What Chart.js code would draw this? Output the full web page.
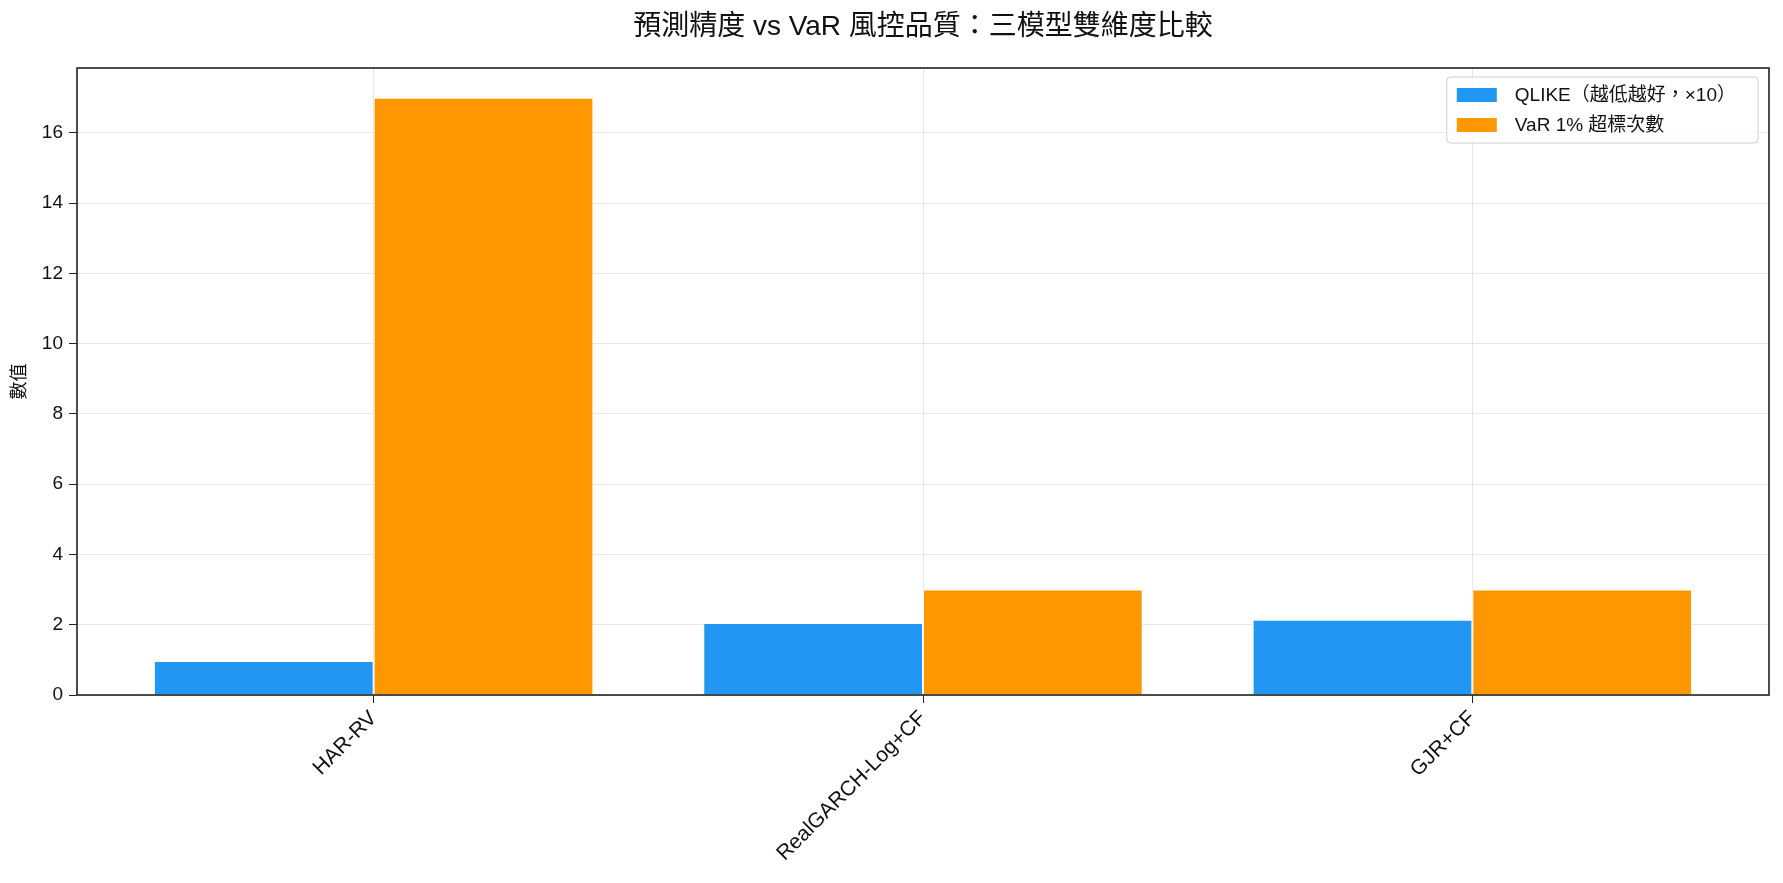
<html>
<head>
<meta charset="utf-8">
<title>預測精度 vs VaR 風控品質</title>
<script src="https://cdn.jsdelivr.net/npm/chart.js@4.4.1/dist/chart.umd.min.js"></script>
<style>
body { margin: 0; background: #fff; }
#wrap { width: 1783px; height: 883px; }
</style>
</head>
<body>
<div id="wrap">
<canvas id="cmpChart" width="1783" height="883"></canvas>
</div>

<script>
// data
const categories = ['HAR-RV', 'RealGARCH-Log+CF', 'GJR+CF'];
const qlikeX10 = [0.97, 2.05, 2.14];
const varExceed = [17, 3, 3];
const yTicks = [0, 2, 4, 6, 8, 10, 12, 14, 16];
const seriesNames = ['QLIKE（越低越好，×10）', 'VaR 1% 超標次數'];

const FONT = '"Liberation Sans", "Noto Sans CJK TC", sans-serif';
const gridCol = 'rgba(176,176,176,0.3)';
const ink = '#222';

// matplotlib-ish frame + legend inside the axes
const boxPlugin = {
    id: 'boxPlugin',
    afterDraw(chart) {
        const ctx = chart.ctx;
        const a = chart.chartArea;
        ctx.save();
        ctx.strokeStyle = ink;
        ctx.lineWidth = 1.6;
        ctx.strokeRect(a.left, a.top, a.right - a.left, a.bottom - a.top);

        ctx.font = '19px ' + FONT;
        let tw = 0;
        chart.data.datasets.forEach(d => { tw = Math.max(tw, ctx.measureText(d.label).width); });
        const w = 10 + 40 + 18 + tw + 22;
        const h = 66;
        const x = a.right - 11 - w;
        const y = a.top + 9;
        ctx.fillStyle = 'rgba(255,255,255,0.8)';
        ctx.strokeStyle = '#d0d0d0';
        ctx.lineWidth = 1;
        ctx.beginPath();
        ctx.roundRect(x, y, w, h, 4);
        ctx.fill();
        ctx.stroke();
        chart.data.datasets.forEach((d, i) => {
            const cy = y + 18 + i * 30;
            ctx.fillStyle = d.backgroundColor;
            ctx.fillRect(x + 10, cy - 7, 40, 14);
            ctx.fillStyle = '#111';
            ctx.textBaseline = 'middle';
            ctx.textAlign = 'left';
            ctx.fillText(d.label, x + 68, cy + 1);
        });
        ctx.restore();
    }
};

const ctx = document.getElementById('cmpChart').getContext('2d');
const cmpChart = new Chart(ctx, {
    type: 'bar',
    data: {
        datasets: [
            {
                label: seriesNames[0],
                backgroundColor: '#2196F3',
                borderColor: '#ffffff',
                borderWidth: 1,
                data: qlikeX10.map((v, i) => ({ x: i, y: v }))
            },
            {
                label: seriesNames[1],
                backgroundColor: '#FF9800',
                borderColor: '#ffffff',
                borderWidth: 1,
                data: varExceed.map((v, i) => ({ x: i, y: v }))
            }
        ]
    },
    options: {
        responsive: false,
        devicePixelRatio: 1,
        animation: false,
        categoryPercentage: 0.8,
        barPercentage: 1.0,
        layout: { padding: { left: 0, right: 14, top: 0, bottom: 0 } },
        plugins: {
            legend: { display: false },
            tooltip: { enabled: false },
            title: {
                display: true,
                fullSize: false,
                text: '預測精度 vs VaR 風控品質：三模型雙維度比較',
                color: '#111',
                font: { family: FONT, size: 28, weight: 'normal' },
                padding: { top: 10.2, bottom: 24.2 }
            }
        },
        scales: {
            x: {
                type: 'linear',
                min: -0.54,
                max: 2.54,
                offset: false,
                z: 1,
                afterBuildTicks: axis => { axis.ticks = categories.map((c, i) => ({ value: i })); },
                afterFit: axis => { axis.height = 188; },
                ticks: {
                    autoSkip: false,
                    minRotation: 45,
                    maxRotation: 45,
                    padding: 3,
                    color: '#111',
                    font: { family: FONT, size: 21 },
                    callback: v => categories[v]
                },
                grid: { color: gridCol, tickColor: ink, tickLength: 8, offset: false },
                border: { display: false }
            },
            y: {
                min: 0,
                max: 17.85,
                z: 1,
                afterBuildTicks: axis => { axis.ticks = yTicks.map(v => ({ value: v })); },
                afterFit: axis => { axis.width = 77; },
                ticks: {
                    padding: 6,
                    color: '#111',
                    font: { family: FONT, size: 19 }
                },
                grid: { color: gridCol, tickColor: ink, tickLength: 8 },
                border: { display: false },
                title: {
                    display: true,
                    text: '數值',
                    color: '#111',
                    font: { family: FONT, size: 18 },
                    padding: { top: 9, bottom: 0 }
                }
            }
        }
    },
    plugins: [boxPlugin]
});
</script>
</body>
</html>
